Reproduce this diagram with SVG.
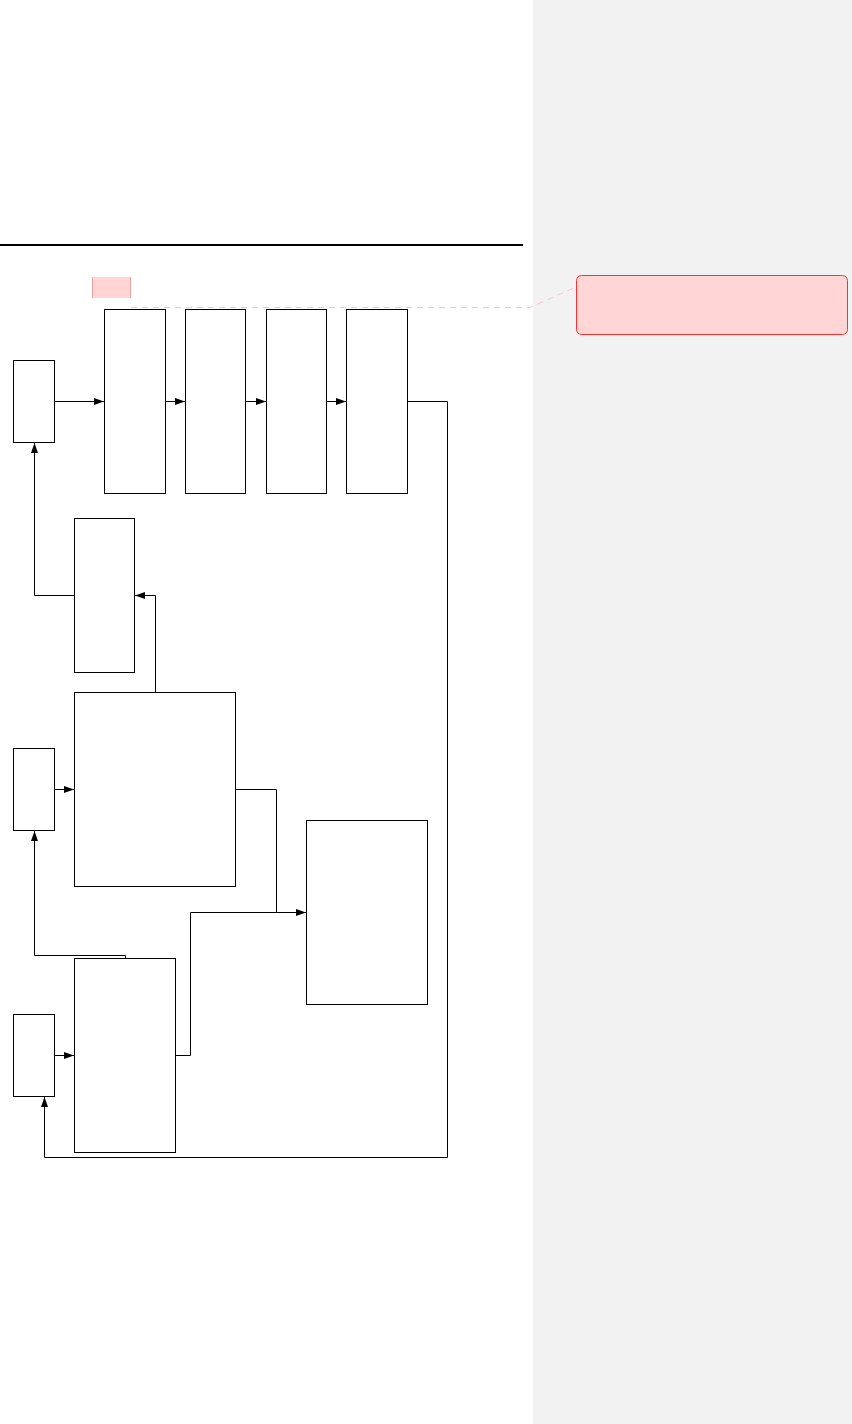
<svg xmlns="http://www.w3.org/2000/svg" width="852" height="1424" viewBox="0 0 852 1424">
<style>
.node{fill:#fff;stroke:#000;stroke-width:1}
.conn{fill:none;stroke:#000;stroke-width:1}
</style>
<defs>
<marker id="arr" markerUnits="userSpaceOnUse" markerWidth="10" markerHeight="8" refX="10" refY="4" orient="auto">
<path d="M0,0.5 L10,4 L0,7.5 z" fill="#000"/>
</marker>
</defs>
<rect x="0" y="0" width="852" height="1424" fill="#fff"/>
<rect x="533" y="0" width="319" height="1424" fill="#f2f2f2"/>
<line x1="0" y1="245" x2="523" y2="245" stroke="#000" stroke-width="2"/>
<g id="highlight">
<rect x="92" y="277" width="39" height="21" fill="#ffd5d5"/>
<line x1="92.5" y1="277" x2="92.5" y2="298" stroke="#f4a0a0"/>
<line x1="130.5" y1="277" x2="130.5" y2="298" stroke="#f4a0a0"/>
</g>
<path d="M131 307.5 H530 L576 287" fill="none" stroke="#f6c4cc" stroke-width="1" stroke-dasharray="6,5"/>
<g id="comment">
<rect x="576.5" y="275.5" width="271" height="59" rx="5" fill="#ffd5d5" stroke="#ff3030" stroke-width="1"/>
</g>
<g id="nA"><rect class="node" x="13.5" y="360.5" width="41" height="82"/></g>
<g id="nB1"><rect class="node" x="104.5" y="309.5" width="61" height="184"/></g>
<g id="nB2"><rect class="node" x="185.5" y="309.5" width="60" height="184"/></g>
<g id="nB3"><rect class="node" x="266.5" y="309.5" width="60" height="184"/></g>
<g id="nB4"><rect class="node" x="346.5" y="309.5" width="61" height="184"/></g>
<g id="nC"><rect class="node" x="74.5" y="518.5" width="60" height="154"/></g>
<g id="nD"><rect class="node" x="74.5" y="692.5" width="161" height="194"/></g>
<g id="nE"><rect class="node" x="13.5" y="748.5" width="41" height="82"/></g>
<g id="nF"><rect class="node" x="306.5" y="820.5" width="121" height="184"/></g>
<g id="nG"><rect class="node" x="74.5" y="958.5" width="101" height="194"/></g>
<g id="nH"><rect class="node" x="13.5" y="1014.5" width="41" height="82"/></g>
<g id="connectors">
<path class="conn" d="M54.5 401.5 H104" marker-end="url(#arr)"/>
<path class="conn" d="M165.5 401.5 H185" marker-end="url(#arr)"/>
<path class="conn" d="M245.5 401.5 H266" marker-end="url(#arr)"/>
<path class="conn" d="M326.5 401.5 H346" marker-end="url(#arr)"/>
<path class="conn" d="M407.5 401.5 H447.5 V1157.5 H44.5 V1097" marker-end="url(#arr)"/>
<path class="conn" d="M74.5 595.5 H34.5 V443" marker-end="url(#arr)"/>
<path class="conn" d="M155.5 692.5 V595.5 H135" marker-end="url(#arr)"/>
<path class="conn" d="M54.5 789.5 H74" marker-end="url(#arr)"/>
<path class="conn" d="M235.5 789.5 H276.5 V912.5 H306" marker-end="url(#arr)"/>
<path class="conn" d="M175.5 1055.5 H190.5 V912.5 H276.5"/>
<path class="conn" d="M125.5 958.5 V955.5 H34.5 V831" marker-end="url(#arr)"/>
<path class="conn" d="M54.5 1055.5 H74" marker-end="url(#arr)"/>
</g>
</svg>
